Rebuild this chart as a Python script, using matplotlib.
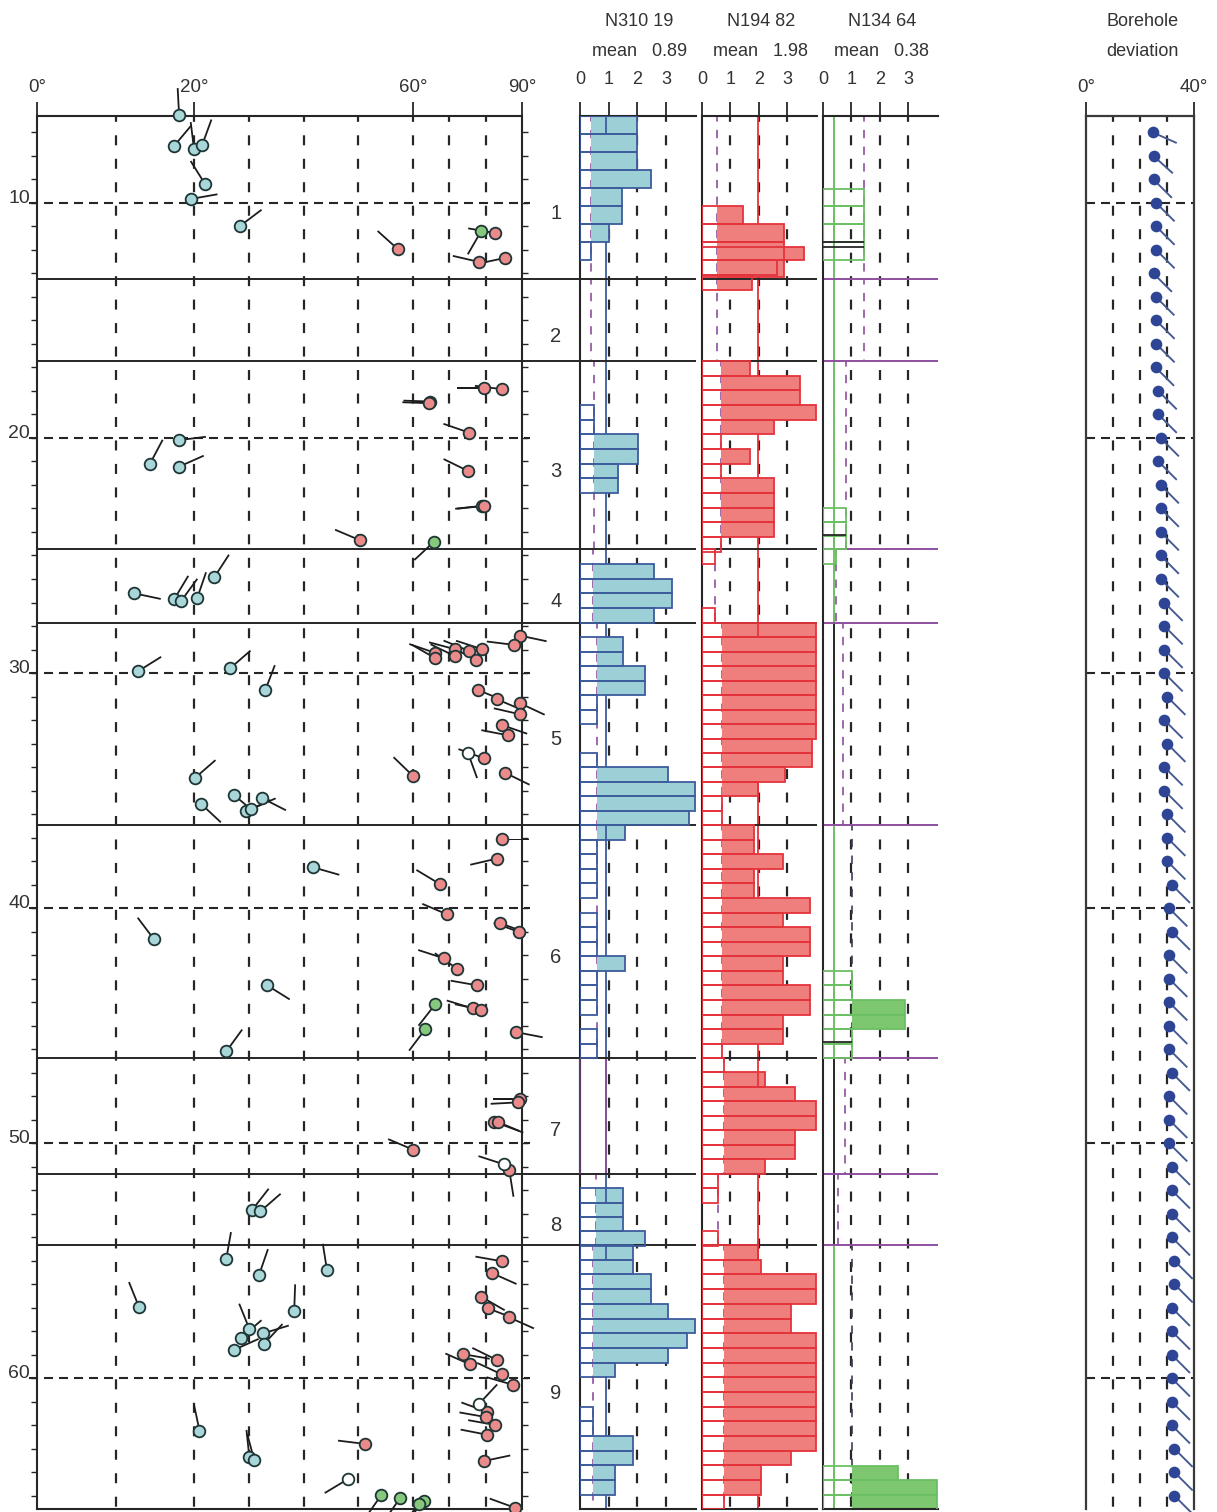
import numpy as np
import matplotlib
matplotlib.use('Agg')
import matplotlib.pyplot as plt

plt.rcParams['font.family'] = ['Liberation Sans', 'DejaVu Sans']
plt.rcParams['lines.scale_dashes'] = False
plt.rcParams['text.color'] = '#333333'
plt.rcParams['xtick.labelcolor'] = '#333333'

W, H = 1217, 1512
TOP_DEPTH, BOTTOM_DEPTH = 6.30, 65.57

# structural zones, depth of the boundaries
zone_edges = [6.30, 13.23, 16.72, 24.72, 27.87, 36.47, 46.38, 51.32, 54.34, 65.57]
zone_names = ['1', '2', '3', '4', '5', '6', '7', '8', '9']
zone_label_depth = [10.45, 15.68, 21.42, 26.95, 32.85, 42.12, 49.45, 53.5, 60.66]
depth_labels = [10, 20, 30, 40, 50, 60]

# dip tick positions on the left panel (stretched scale)
dip_knots = [0, 20, 60, 90]
dip_frac = [0, 157, 376, 485]

# fractures: dip, depth, dip azimuth
teal_dip = [18.1, 17.45, 20.0, 21.5, 22.0, 19.6, 28.4, 18.1, 14.4, 18.1, 23.7, 12.4, 17.5, 18.4, 20.6,
            12.9, 26.6, 33.0, 20.2, 21.3, 27.3, 29.5, 30.4, 32.4, 41.8, 14.9, 33.3, 25.9, 30.6, 32.1,
            25.9, 31.9, 44.3, 13.0, 38.3, 30.1, 28.6, 32.6, 32.8, 27.3, 21.0, 30.1, 31.0]
teal_depth = [6.26, 7.58, 7.70, 7.53, 9.19, 9.83, 10.98, 20.09, 21.09, 21.22, 25.93, 26.61, 26.85, 26.92, 26.8,
              29.92, 29.8, 30.74, 34.46, 35.57, 35.19, 35.89, 35.8, 35.32, 38.27, 41.33, 43.28, 46.1, 52.85, 52.91,
              54.92, 55.6, 55.42, 56.98, 57.16, 57.9, 58.29, 58.1, 58.54, 58.8, 62.23, 63.35, 63.49]
teal_az = [357, 40, 353, 20, 328, 80, 53, 83, 28, 66, 33, 102, 31, 36, 19,
           58, 49, 21, 49, 133, 130, 65, 66, 117, 106, 323, 122, 36, 38, 49,
           10, 19, 351, 338, 2, 338, 49, 73, 43, 66, 348, 354, 345]

red_dip = [57.2, 82.5, 78.2, 85.3, 84.4, 79.5, 64.8, 64.5, 75.4, 75.1, 79.0, 79.5, 50.3,
           89.5, 87.7, 78.9, 75.3, 71.6, 66.0, 77.4, 71.5, 66.1, 77.8, 83.0, 89.5, 89.5, 84.4, 86.1, 79.5, 60.0, 85.4,
           84.5, 83.0, 67.3, 69.4, 83.9, 89.2, 68.5, 72.1, 77.7, 76.4, 78.8, 88.4,
           89.5, 88.8, 82.2, 83.5, 60.0, 86.5,
           84.5, 81.7, 78.8, 80.6, 86.5, 73.8, 83.0, 75.7, 84.4, 87.4, 80.3, 80.1, 82.5, 80.4, 51.2, 79.5, 88.1]
red_depth = [11.96, 11.28, 12.51, 12.34, 17.92, 17.86, 18.45, 18.52, 19.77, 21.40, 22.89, 22.89, 24.35,
             28.41, 28.8, 28.98, 29.05, 28.99, 29.14, 29.43, 29.28, 29.37, 30.72, 31.11, 31.29, 31.76, 32.21, 32.65, 33.63, 34.38, 34.25,
             37.08, 37.9, 38.97, 40.27, 40.64, 41.02, 42.14, 42.58, 43.29, 44.27, 44.33, 45.28,
             48.11, 48.27, 49.09, 49.11, 50.28, 51.15,
             55.03, 55.53, 56.54, 57.03, 57.42, 58.98, 59.22, 59.42, 59.84, 60.28, 61.43, 61.66, 61.99, 62.41, 62.8, 63.53, 65.52]
red_az = [312, 280, 283, 258, 277, 270, 272, 272, 289, 296, 264, 264, 293,
          102, 277, 288, 292, 285, 289, 296, 296, 300, 112, 113, 115, 283, 109, 281, 290, 314, 116,
          90, 257, 301, 293, 110, 290, 288, 305, 280, 287, 282, 101,
          270, 267, 110, 113, 293, 171,
          280, 114, 120, 111, 114, 100, 296, 294, 295, 286, 290, 280, 280, 281, 277, 78, 290]

green_dip = [78.8, 65.8, 66.1, 63.4, 54.2, 57.6, 63.0, 61.7]
green_depth = [11.19, 24.41, 44.10, 45.15, 64.98, 65.12, 65.23, 65.36]
green_az = [210, 227, 218, 217, 215, 215, 220, 220]

white_dip = [75.1, 85.1, 48.1, 78.1]
white_depth = [33.39, 50.91, 64.3, 61.11]
white_az = [160, 288, 239, 43]

# histograms: top depth, bin height, counts, lower limit of the fill
blue_bins = [
    (6.30, 0.765, [1.97, 1.97, 1.97, 2.47, 1.47, 1.47, 1.0, 0.37], 0.37),
    (16.72, 0.625, [0, 0, 0, 0.5, 0.5, 2.02, 2.02, 1.34, 1.34, 0, 0, 0, 0], 0.5),
    (24.72, 0.63, [0, 2.58, 3.22, 3.22, 2.58], 0.45),
    (27.87, 0.615, [0, 1.5, 1.5, 2.28, 2.28, 0.59, 0.59, 0, 0, 0.59, 3.05, 4.01, 4.01, 3.8], 0.59),
    (36.47, 0.62, [1.56, 0.59, 0.59, 0.59, 0.59, 0, 0.59, 0.59, 0.59, 1.56, 0.59, 0.59, 0.59, 0, 0.59, 0.59], 0.59),
    (51.32, 0.61, [0, 1.51, 1.51, 1.51, 2.28], 0.55),
    (54.34, 0.625, [1.85, 1.85, 2.49, 2.49, 3.08, 4.01, 3.73, 3.08, 1.23, 0, 0, 0.45, 0.45, 1.86, 1.86, 1.22, 1.22, 0], 0.45),
]
red_bins = [
    (10.13, 0.76, [1.43, 2.88, 2.88, 2.88], 0.52),
    (11.87, 0.57, [3.6], 0.52),
    (12.42, 0.64, [2.65], 0.52),
    (13.06, 0.64, [1.77], 0.52),
    (16.72, 0.625, [1.69, 3.43, 3.43, 4.01, 2.53, 0.65, 1.69, 0.65, 2.53, 2.53, 2.53, 2.53, 0.65], 0.65),
    (24.72, 0.63, [0.44, 0, 0, 0, 0.44], 0.44),
    (27.87, 0.615, [4.01, 4.01, 4.01, 4.01, 4.01, 4.01, 4.01, 4.01, 3.85, 3.85, 2.93, 1.98, 0.7, 0.7], 0.7),
    (36.47, 0.62, [1.84, 1.84, 2.84, 1.84, 1.84, 3.78, 2.84, 3.78, 3.78, 2.84, 2.84, 3.78, 3.78, 2.84, 2.84, 0.7], 0.7),
    (46.38, 0.617, [0.78, 2.2, 3.26, 4.01, 4.01, 3.26, 3.26, 2.2], 0.78),
    (51.32, 0.61, [0.55, 0.55, 0, 0, 0.55], 0.55),
    (54.34, 0.625, [1.98, 2.07, 4.01, 4.01, 3.12, 3.12, 4.01, 4.01, 4.01, 4.01, 4.01, 4.01, 4.01, 4.01, 3.12, 2.06, 2.06, 0.76], 0.76),
]
green_bins = [
    (9.39, 0.76, [1.43, 1.43, 1.43, 1.43], 1.43),
    (23.0, 0.575, [0.8, 0.8, 0.8], 0.8),
    (24.72, 0.63, [0.45], 0.38),
    (42.67, 0.62, [1.02, 1.02, 2.88, 2.88, 1.02, 1.02], 1.02),
    (63.72, 0.625, [2.63, 4.02, 4.02], 1.02),
]

# per zone lower limit (dashed) and mean line
blue_limit = [0.37, 0.37, 0.5, 0.45, 0.59, 0.59, 0.0, 0.55, 0.45]
red_limit = [0.52, 0.52, 0.65, 0.44, 0.7, 0.7, 0.78, 0.55, 0.76]
green_limit = [1.43, 1.43, 0.8, 0.44, 0.7, 1.02, 0.79, 0.53, 1.02]
panel_titles = ['N310 19', 'N194 82', 'N134 64']
panel_means = [0.89, 1.98, 0.38]
blue_over = [(6.30, 7.06), (36.47, 37.09), (51.93, 52.54), (54.34, 54.96)]
red_over = [(27.87, 28.48), (47.0, 47.6), (54.34, 54.96)]
green_black = [(11.67, 1.43), (11.87, 1.43), (24.13, 0.8), (45.72, 1.02)]

# borehole deviation, one reading per metre
bore_depth = list(range(7, 66))
bore_dev = [24.8, 25, 25, 26, 26, 26, 25, 25.9, 26, 26, 25.8, 26.8, 26.8, 27.6, 26.8, 27.6, 27.6, 27.6, 27.6, 27.6,
            29, 29, 29, 29, 30, 29, 30, 29, 29, 30, 30, 30, 31.7, 30.7, 31.7, 30.7, 30.7, 30.7, 30.7, 30.7,
            31.7, 30.7, 30.7, 30.7, 31.7, 31.7, 31.7, 31.7, 32.7, 32.7, 31.7, 31.7, 31.7, 31.7, 31.7, 31.7, 32.7, 32.7, 32.7]
bore_az = [114, 132] + [135] * 57

BLACK = '#262626'
PURPLE = '#8f4f9e'
BLUE_E, BLUE_F = '#3d5c9c', '#9dd0d6'
RED_E, RED_F = '#e5333c', '#ee7f7c'
GREEN_E, GREEN_F = '#6cbf63', '#7cc76f'
GRID_DASH = (3, (7.2, 9.7))
PANEL_LW = 1.3


def make_axes(fig, x0, x1):
    return fig.add_axes([x0 / W, 1 - 1509 / H, (x1 - x0) / W, (1509 - 116) / H])


def dip_fwd(v):
    return np.interp(v, dip_knots, dip_frac)


def dip_inv(v):
    return np.interp(v, dip_frac, dip_knots)


def draw_tails(ax, dips, depths, az, length=27, color='#1c1c1c', lw=1.8):
    a = np.radians(az)
    ax.quiver(dips, depths, length * np.sin(a), length * np.cos(a), angles='uv', scale_units='dots', scale=1,
              units='dots', width=lw, headwidth=0, headlength=0, headaxislength=0, pivot='tail',
              color=color, zorder=5, clip_on=False)


def draw_fractures(ax, dips, depths, az, face):
    draw_tails(ax, dips, depths, az)
    ax.plot(dips, depths, ls='none', marker='o', ms=8.4, mfc=face, mec='#1f3535', mew=1.3, zorder=6, clip_on=False)


def draw_bins(ax, bins, edge, fill):
    for top, step, values, limit in bins:
        y = top + step * np.arange(len(values))
        v = np.array(values, dtype=float)
        on = v > limit
        ax.barh(y[on], v[on] - limit, left=limit, height=step, align='edge', color=fill, lw=0, zorder=2)
        on = v > 0
        ax.barh(y[on], v[on], height=step, align='edge', facecolor='none', edgecolor=edge, lw=PANEL_LW, zorder=3.5)


def setup_panel(ax, limit, limit_colors, line_color):
    ax.set_xlim(0, 4.04)
    ax.set_ylim(BOTTOM_DEPTH, TOP_DEPTH)
    ax.patch.set_alpha(0)
    ax.spines['right'].set_visible(False)
    for s in ['left', 'top', 'bottom']:
        ax.spines[s].set_linewidth(1.5)
        ax.spines[s].set_color(BLACK)
    ax.xaxis.tick_top()
    ax.set_xticks([0, 1, 2, 3])
    ax.tick_params(axis='x', length=10, width=1.3, pad=10.5, labelsize=13, color=BLACK)
    ax.set_yticks([])
    ax.vlines([1, 2, 3], TOP_DEPTH, BOTTOM_DEPTH, colors=BLACK, lw=1.6, linestyles=[GRID_DASH], zorder=0.5)
    for i, val in enumerate(limit):
        ax.vlines(val, zone_edges[i], zone_edges[i + 1], colors=limit_colors[i], lw=1.2,
                  linestyles=[(2, (6, 6))], zorder=0.6)
    for d in zone_edges[1:-1]:
        ax.hlines(d, 0, 4.04, colors=line_color, lw=1.4, zorder=2.5)


fig = plt.figure(figsize=(W / 100, H / 100), dpi=100)

# left panel: dip against depth
ax = make_axes(fig, 37, 522)
ax.set_xscale('function', functions=(dip_fwd, dip_inv))
ax.set_xlim(0, 90)
ax.set_ylim(BOTTOM_DEPTH, TOP_DEPTH)
ax.patch.set_alpha(0)
for s in ax.spines.values():
    s.set_linewidth(1.5)
    s.set_color(BLACK)
ax.xaxis.tick_top()
ax.set_xticks([0, 20, 60, 90])
ax.set_xticklabels(['0°', '20°', '60°', '90°'])
ax.xaxis.set_minor_locator(plt.NullLocator())
ax.tick_params(axis='x', length=10, width=1.3, pad=4.5, labelsize=13.5, color=BLACK)
ax.set_yticks(bore_depth)
ax.set_yticklabels([])
ax.tick_params(axis='y', left=True, right=True, length=4.5, width=1, color=BLACK)
ax.vlines([10, 20, 30, 40, 50, 60, 70, 80], TOP_DEPTH, BOTTOM_DEPTH, colors=BLACK, lw=1.6,
          linestyles=[GRID_DASH], zorder=0.5)
ax.hlines(depth_labels, -0.0165, 1.0165, transform=ax.get_yaxis_transform(), colors=BLACK, lw=1.5,
          linestyles=[(0, (6.5, 4.3))], zorder=0.5, clip_on=False)
# zone lines run on across the gap into the first histogram
ax.hlines(zone_edges[1:-1], 0, 1.12, transform=ax.get_yaxis_transform(), colors=BLACK, lw=1.4, zorder=2.5,
          clip_on=False)
for d in depth_labels:
    ax.text(-0.014, d, str(d), ha='right', va='baseline', fontsize=14, transform=ax.get_yaxis_transform())
for d, name in zip(zone_label_depth, zone_names):
    ax.text(1.07, d, name, ha='center', va='center', fontsize=14.5, transform=ax.get_yaxis_transform())

draw_fractures(ax, teal_dip, teal_depth, teal_az, '#a9d6d9')
draw_fractures(ax, red_dip, red_depth, red_az, '#ea8a8a')
draw_fractures(ax, green_dip, green_depth, green_az, '#86c97c')
draw_fractures(ax, white_dip, white_depth, white_az, 'white')

# histograms
ax1 = make_axes(fig, 580, 696)
setup_panel(ax1, blue_limit, [PURPLE] * 9, BLACK)
ax1.vlines(panel_means[0], TOP_DEPTH, BOTTOM_DEPTH, colors=BLUE_E, lw=1.3, zorder=1)
ax1.vlines(panel_means[0], zone_edges[6], zone_edges[7], colors=PURPLE, lw=1.3, zorder=1.1)
ax1.vlines(0, zone_edges[6], zone_edges[7], colors='#5a3a68', lw=1.5, zorder=4, clip_on=False)
for a, b in blue_over:
    ax1.vlines(panel_means[0], a, b, colors=BLUE_E, lw=1.3, zorder=3)
draw_bins(ax1, blue_bins, BLUE_E, BLUE_F)

ax2 = make_axes(fig, 702, 817)
setup_panel(ax2, red_limit, [PURPLE] * 9, BLACK)
ax2.vlines(panel_means[1], TOP_DEPTH, BOTTOM_DEPTH, colors=RED_E, lw=1.3, zorder=1)
for a, b in red_over:
    ax2.vlines(panel_means[1], a, b, colors=RED_E, lw=1.3, zorder=3)
draw_bins(ax2, red_bins, RED_E, RED_F)

ax3 = make_axes(fig, 823, 938)
green_colors = [PURPLE] * 5 + ['#3d3d55'] + [PURPLE] * 2 + ['#3d3d55']
setup_panel(ax3, green_limit, green_colors, PURPLE)
mean_colors = [GREEN_E, GREEN_E, GREEN_E, GREEN_E, BLACK, GREEN_E, BLACK, BLACK, GREEN_E]
for i, c in enumerate(mean_colors):
    ax3.vlines(panel_means[2], zone_edges[i], zone_edges[i + 1], colors=c, lw=1.4, zorder=1)
draw_bins(ax3, green_bins, GREEN_E, GREEN_F)
for d, val in green_black:
    ax3.hlines(d, 0, val, colors=BLACK, lw=1.3, zorder=4)

for a_, title, mean in zip([ax1, ax2, ax3], panel_titles, panel_means):
    a_.text(0.51, 1 + 94 / 1393, title, ha='center', va='center', fontsize=13, transform=a_.transAxes)
    a_.text(0.51, 1 + 64 / 1393, 'mean   %.2f' % mean, ha='center', va='center', fontsize=13, transform=a_.transAxes)

# borehole deviation
ax4 = make_axes(fig, 1086, 1194)
ax4.set_xlim(0, 40)
ax4.set_ylim(BOTTOM_DEPTH, TOP_DEPTH)
ax4.patch.set_alpha(0)
ax4.spines['bottom'].set_visible(False)
for s in ['left', 'right', 'top']:
    ax4.spines[s].set_linewidth(1.6)
    ax4.spines[s].set_color('#3a3a3a')
ax4.xaxis.tick_top()
ax4.set_xticks([0, 40])
ax4.set_xticklabels(['0°', '40°'])
ax4.tick_params(axis='x', length=10, width=1.3, pad=4.5, labelsize=13.5, color=BLACK)
ax4.set_yticks([])
ax4.vlines([10, 20, 30], TOP_DEPTH, BOTTOM_DEPTH, colors=BLACK, lw=1.6, linestyles=[GRID_DASH], zorder=0.5)
ax4.hlines(depth_labels, 0, 40, colors=BLACK, lw=1.5, linestyles=[(0, (6.5, 4.3))], zorder=0.5)
draw_tails(ax4, bore_dev, bore_depth, bore_az, length=26, color='#465a92', lw=1.9)
ax4.plot(bore_dev, bore_depth, ls='none', marker='o', ms=8.4, mfc='#2d4594', mec='#2d4594', mew=0, zorder=6)
ax4.text(0.52, 1 + 94 / 1393, 'Borehole', ha='center', va='center', fontsize=13, transform=ax4.transAxes)
ax4.text(0.52, 1 + 64 / 1393, 'deviation', ha='center', va='center', fontsize=13, transform=ax4.transAxes)

fig.savefig('out.png', dpi=100)
